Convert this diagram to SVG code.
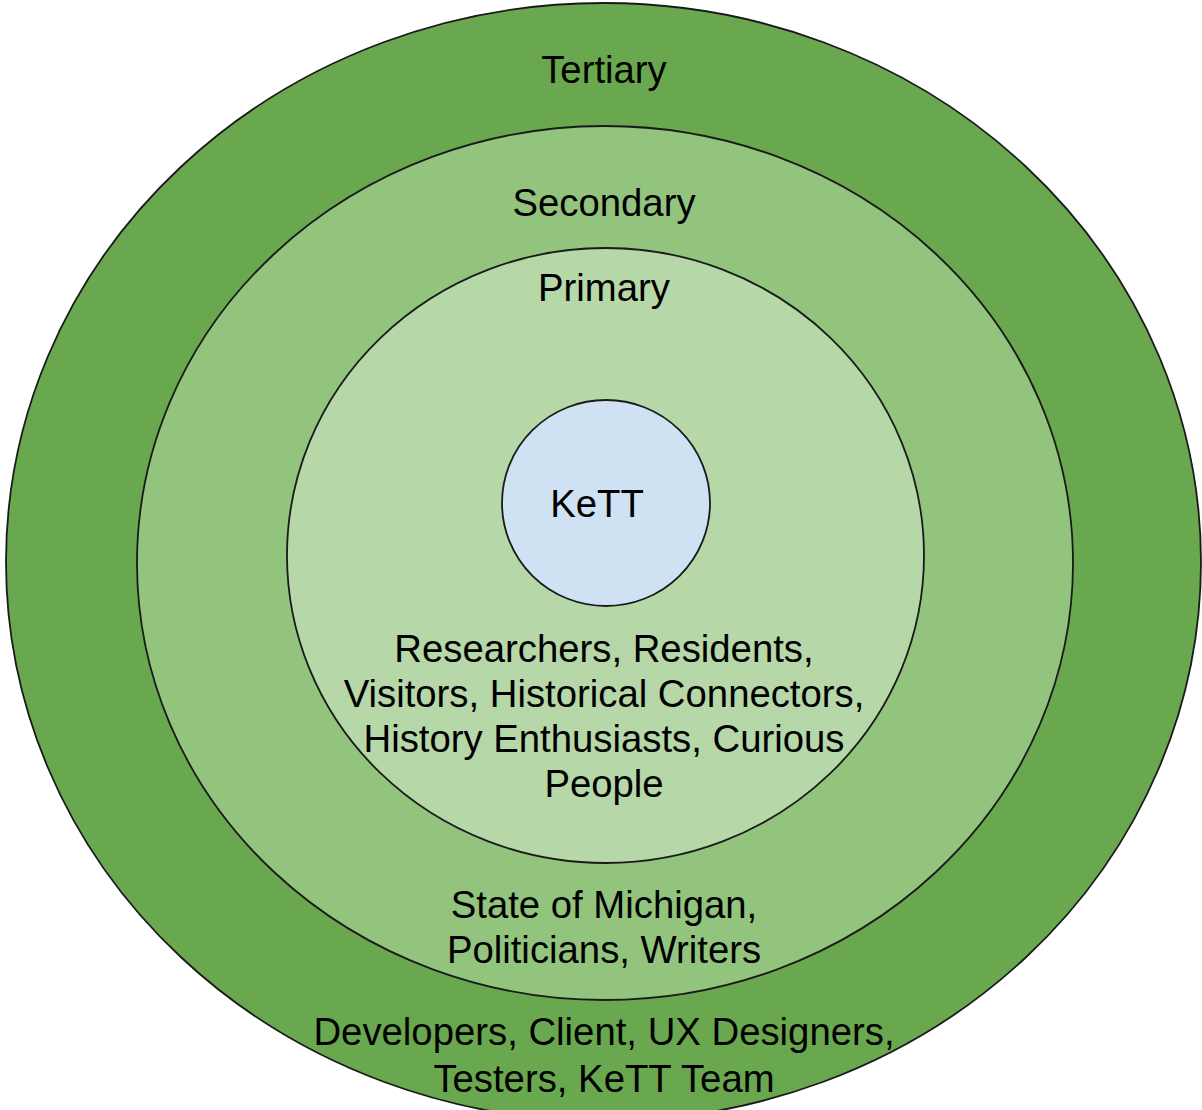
<svg xmlns="http://www.w3.org/2000/svg" width="1202" height="1110" viewBox="0 0 1202 1110">
<style>
.ring{stroke:#1a1a1a;stroke-width:1.8}
text{font-family:"Liberation Sans",Arial,sans-serif;font-size:38.3px;fill:#000;text-anchor:middle}
</style>
<rect width="1202" height="1110" fill="#ffffff"/>
<g id="tertiary">
<ellipse class="ring" cx="603.5" cy="562" rx="597.5" ry="559" fill="#6aa84f"/>
<text x="604" y="83">Tertiary</text>
<text x="604" y="1045">Developers, Client, UX Designers,</text>
<text x="604" y="1092">Testers, KeTT Team</text>
</g>
<g id="secondary">
<ellipse class="ring" cx="605" cy="563" rx="468" ry="437" fill="#93c47d"/>
<text x="604" y="216">Secondary</text>
<text x="604" y="918">State of Michigan,</text>
<text x="604" y="963">Politicians, Writers</text>
</g>
<g id="primary">
<ellipse class="ring" cx="605.5" cy="555.5" rx="318.5" ry="307.5" fill="#b6d7a8"/>
<text x="604" y="301">Primary</text>
<text x="604" y="662">Researchers, Residents,</text>
<text x="604" y="707">Visitors, Historical Connectors,</text>
<text x="604" y="752">History Enthusiasts, Curious</text>
<text x="604" y="797">People</text>
</g>
<g id="kett">
<ellipse class="ring" cx="606" cy="503" rx="104" ry="103" fill="#cfe2f3"/>
<text x="597" y="517">KeTT</text>
</g>
<g id="connectors"></g>
</svg>
